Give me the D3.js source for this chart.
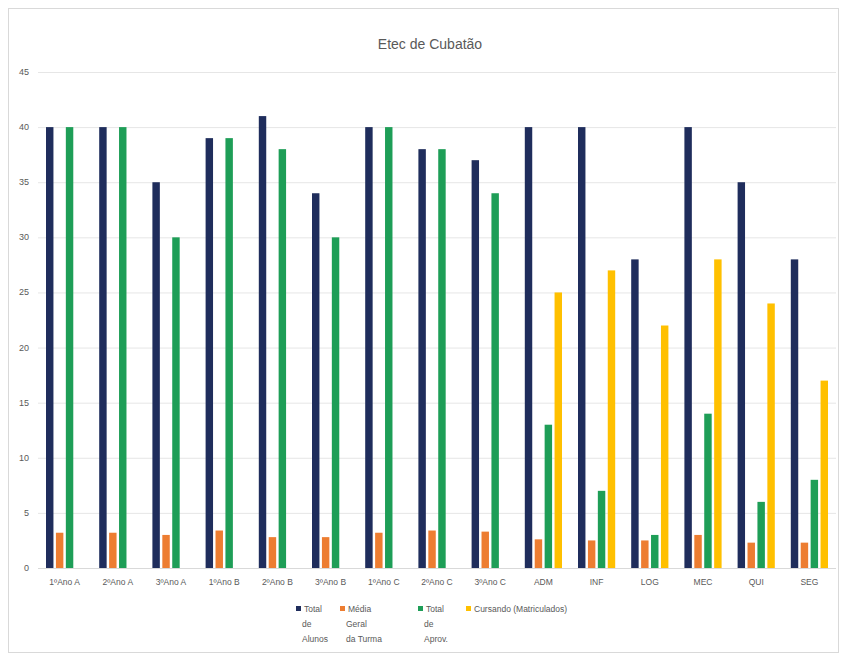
<!DOCTYPE html>
<html><head><meta charset="utf-8">
<script src="https://cdn.jsdelivr.net/npm/d3@7"></script>
<style>body{margin:0;background:#fff;} svg{display:block;font-family:"Liberation Sans","Open Sans",sans-serif;}</style>
</head><body>
<svg id="c" width="845" height="658"></svg>
<script>
const title = "Etec de Cubatão";
const categories = ["1ºAno A","2ºAno A","3ºAno A","1ºAno B","2ºAno B","3ºAno B","1ºAno C","2ºAno C","3ºAno C","ADM","INF","LOG","MEC","QUI","SEG"];
const seriesNames = ["Total de Alunos","Média Geral da Turma","Total de Aprov.","Cursando (Matriculados)"];
const seriesLegendLines = [["Total","de","Alunos"],["Média","Geral","da Turma"],["Total","de","Aprov."],["Cursando (Matriculados)"]];
const seriesColors = ["#1F2D5C","#ED7D31","#1E9E57","#FFC000"];
const totalAlunos = [40,40,35,39,41,34,40,38,37,40,40,28,40,35,28];
const mediaGeral  = [3.2,3.2,3.0,3.4,2.8,2.8,3.2,3.4,3.3,2.6,2.5,2.5,3.0,2.3,2.3];
const aprovados   = [40,40,30,39,38,30,40,38,34,13,7,3,14,6,8];
const cursando    = [null,null,null,null,null,null,null,null,null,25,27,22,28,24,17];
const yTicks = [0,5,10,15,20,25,30,35,40,45];

const series = [totalAlunos, mediaGeral, aprovados, cursando];
const svg = d3.select("#c");
svg.append("rect").attr("x",8.5).attr("y",8.5).attr("width",830).attr("height",644)
  .attr("fill","#fff").attr("stroke","#d9d9d9");
svg.append("text").attr("x",430).attr("y",49).attr("text-anchor","middle")
  .attr("font-size",14).attr("fill","#595959").text(title);

const m = {l:38, r:836, t:72, b:568};
const y = d3.scaleLinear().domain([0,45]).range([m.b,m.t]);
const x0 = d3.scaleBand().domain(categories).range([m.l,m.r]).padding(0);
const x1 = d3.scaleBand().domain(d3.range(4)).range([8, x0.bandwidth()-8]).paddingInner(0.25);

svg.append("g").selectAll("line").data(yTicks).join("line")
  .attr("x1",m.l).attr("x2",m.r).attr("y1",d=>y(d)+0.5).attr("y2",d=>y(d)+0.5)
  .attr("stroke","#e6e6e6");
svg.append("g").selectAll("text").data(yTicks).join("text")
  .attr("x",29).attr("y",d=>y(d)+3).attr("text-anchor","end")
  .attr("font-size",9).attr("fill","#595959").text(d=>d);

const g = svg.append("g");
categories.forEach((c,i)=>{
  series.forEach((s,k)=>{
    const v = s[i];
    if (v==null) return;
    g.append("rect").attr("x",x0(c)+x1(k)).attr("width",x1.bandwidth())
      .attr("y",y(v)).attr("height",y(0)-y(v)).attr("fill",seriesColors[k]);
  });
});
svg.append("line").attr("x1",m.l).attr("x2",m.r).attr("y1",m.b+0.5).attr("y2",m.b+0.5).attr("stroke","#d9d9d9");
svg.append("g").selectAll("text").data(categories).join("text")
  .attr("x",d=>x0(d)+x0.bandwidth()/2).attr("y",585).attr("text-anchor","middle")
  .attr("font-size",8.5).attr("fill","#595959").text(d=>d);

const legX = [296, 340, 418, 466];
const lg = svg.append("g");
seriesNames.forEach((n,k)=>{
  lg.append("rect").attr("x",legX[k]).attr("y",606).attr("width",5).attr("height",5).attr("fill",seriesColors[k]);
  const t = lg.append("text").attr("font-size",8.5).attr("fill","#595959");
  seriesLegendLines[k].forEach((ln,j)=>{
    t.append("tspan").attr("x", j===0 ? legX[k]+8 : legX[k]+6).attr("y",612+j*15).text(ln);
  });
});
</script>
</body></html>
